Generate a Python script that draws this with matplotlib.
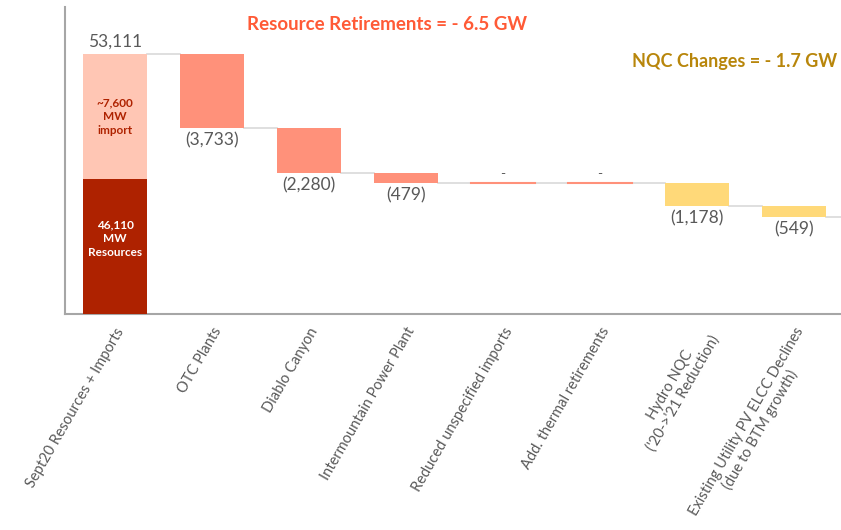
import matplotlib
matplotlib.use("Agg")
import matplotlib.pyplot as plt

plt.rcParams['font.family'] = ['Lato', 'DejaVu Sans']

categories = ["Sept20 Resources + Imports", "OTC Plants", "Diablo Canyon",
              "Intermountain Power Plant", "Reduced unspecified imports",
              "Add. thermal retirements", "Hydro NQC\n('20->'21 Reduction)",
              "Existing Utility PV ELCC Declines\n(due to BTM growth)"]
start_total = 53111
resources_drawn = 46800          # split point of the first bar as drawn
changes = [-3733, -2280, -479, 0, 0, -1178, -549]
change_labels = ["(3,733)", "(2,280)", "(479)", "-", "-", "(1,178)", "(549)"]
change_groups = ["ret", "ret", "ret", "ret", "ret", "nqc", "nqc"]
import_label = "~7,600\nMW\nimport"
resource_label = "46,110\nMW\nResources"
total_label = "53,111"
ymin, ymax = 40000, 55500

c_dark = "#AE2200"
c_light = "#FFC6B4"
c_ret = "#FF917A"
c_nqc = "#FFD979"
c_grey = "#595959"
c_conn = "#D9D9D9"

fig = plt.figure(figsize=(8.41, 5.30), dpi=100)
ax = fig.add_axes([65/841, 1-314/530, 1-65/841, 307/530])
ax.set_xlim(-0.515, 7.485)
ax.set_ylim(ymin, ymax)
w = 0.66

# first bar
ax.bar(0, resources_drawn - ymin, bottom=ymin, width=w, color=c_dark, zorder=3)
ax.bar(0, start_total - resources_drawn, bottom=resources_drawn, width=w, color=c_light, zorder=3)
ax.text(0, (start_total + resources_drawn) / 2, import_label, ha='center', va='center',
        color=c_dark, fontsize=8.5, fontweight='bold', linespacing=1.3, zorder=4)
ax.text(0, (resources_drawn + ymin) / 2 + 400, resource_label, ha='center', va='center',
        color='white', fontsize=8.5, fontweight='bold', linespacing=1.3, zorder=4)
ax.text(0, start_total + 250, total_label, ha='center', va='bottom', color=c_grey, fontsize=12.5)

running = start_total
for i, (d, lab, g) in enumerate(zip(changes, change_labels, change_groups), start=1):
    col = c_ret if g == "ret" else c_nqc
    # connector from previous bar
    ax.plot([i - 1 + w/2, i - w/2], [running, running], color=c_conn, lw=1.2, zorder=2)
    new = running + d
    if d == 0:
        ax.plot([i - w/2, i + w/2], [running, running], color=col, lw=1.5, zorder=3)
        ax.text(i, running + 150, lab, ha='center', va='bottom', color=c_grey, fontsize=10)
    else:
        ax.bar(i, -d, bottom=new, width=w, color=col, zorder=3)
        ax.text(i, new - 220, lab, ha='center', va='top', color=c_grey, fontsize=12.5)
    running = new
ax.plot([len(changes) + w/2, 7.485], [running, running], color=c_conn, lw=1.2, zorder=2)

ax.set_xticks(range(len(categories)))
ax.set_xticklabels(categories, rotation=60, ha='right', rotation_mode='anchor',
                   color=c_grey, fontsize=10.5, multialignment='center')
for t in ax.get_xticklabels():
    t.set_linespacing(1.1)
ax.tick_params(axis='x', length=0, pad=8)
ax.set_yticks([])
for s in ['top', 'right']:
    ax.spines[s].set_visible(False)
for s in ['left', 'bottom']:
    ax.spines[s].set_color('#A6A6A6')
    ax.spines[s].set_linewidth(1.5)

fig.text(387/841, 1-25/530, "Resource Retirements = - 6.5 GW", ha='center', va='center',
         color="#FF5A36", fontsize=13.5, fontweight='bold')
fig.text(837/841, 1-62/530, "NQC Changes = - 1.7 GW", ha='right', va='center',
         color="#B8860B", fontsize=13, fontweight='bold')

fig.savefig("out.png", dpi=100)
